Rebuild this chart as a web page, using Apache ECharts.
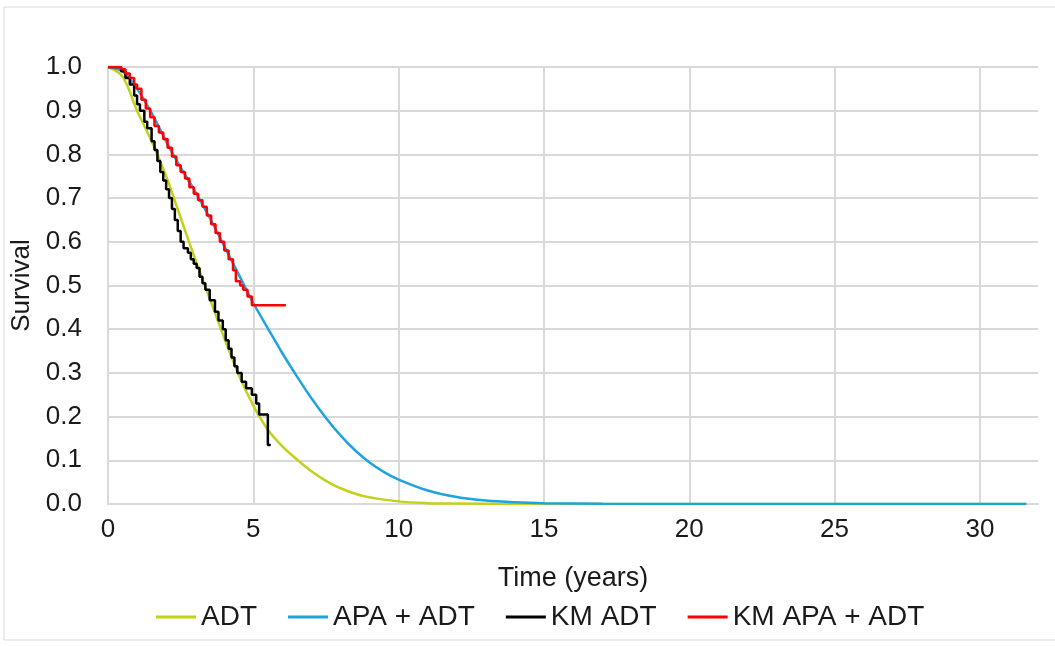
<!DOCTYPE html>
<html>
<head>
<meta charset="utf-8">
<script src="https://cdn.jsdelivr.net/npm/echarts@6/dist/echarts.min.js"></script>
<style>
html,body{margin:0;padding:0;background:#fff;}
#chart{width:1055px;height:646px;}
</style>
</head>
<body>
<div id="chart"></div>
<script>
// 曲线数据 [年, 生存率]
var adtCurve = [
	[0,1],[0.5,0.978],[1.0,0.9],[1.5,0.83],[2.0,0.75],[2.5,0.655],[3.0,0.56],
	[3.5,0.47],[4.0,0.38],[4.5,0.295],[5.0,0.225],[5.5,0.17],[6.0,0.132],
	[6.5,0.102],[7.0,0.075],[7.5,0.053],[8.0,0.036],[8.8,0.018],[10,0.006],
	[11,0.002],[12,0.001],[14,0],[31.6,0]
];
var apaCurve = [
	[0,1],[0.5,0.99],[1.0,0.95],[1.5,0.895],[2.0,0.83],[2.5,0.77],[3.0,0.715],
	[3.5,0.655],[4.0,0.59],[4.5,0.525],[5.0,0.46],[5.5,0.402],[6.0,0.345],
	[6.5,0.292],[7.0,0.242],[7.5,0.197],[8.0,0.157],[8.5,0.123],[9.0,0.095],
	[9.5,0.073],[10,0.056],[11,0.031],[12,0.016],[13,0.008],[14,0.004],
	[15,0.002],[17,0.0005],[20,0],[31.6,0]
];
// KM 阶梯
var kmAdt = [
	[0,1],[0.45,0.99],[0.6,0.975],[0.75,0.96],[0.9,0.935],[1.0,0.915],[1.1,0.9],
	[1.25,0.875],[1.35,0.86],[1.5,0.83],[1.6,0.81],[1.7,0.785],[1.8,0.76],
	[1.9,0.74],[2.0,0.72],[2.1,0.7],[2.2,0.675],[2.3,0.65],[2.4,0.625],
	[2.5,0.6],[2.6,0.585],[2.75,0.575],[2.85,0.56],[2.95,0.55],[3.05,0.54],
	[3.15,0.52],[3.25,0.505],[3.35,0.49],[3.5,0.466],[3.68,0.44],[3.8,0.42],
	[3.95,0.4],[4.05,0.375],[4.15,0.355],[4.25,0.335],[4.35,0.315],[4.45,0.3],
	[4.6,0.28],[4.75,0.265],[4.95,0.25],[5.1,0.23],[5.2,0.205],[5.5,0.135],
	[5.6,0.135]
];
var kmApa = [
	[0,1],[0.45,0.995],[0.6,0.985],[0.75,0.975],[0.9,0.96],[1.0,0.95],[1.15,0.925],
	[1.3,0.905],[1.45,0.885],[1.6,0.865],[1.75,0.85],[1.9,0.835],[2.05,0.815],
	[2.2,0.795],[2.35,0.775],[2.5,0.76],[2.65,0.745],[2.8,0.725],[2.95,0.71],
	[3.1,0.695],[3.25,0.68],[3.4,0.66],[3.55,0.64],[3.7,0.62],[3.85,0.6],
	[4.0,0.58],[4.15,0.56],[4.3,0.535],[4.4,0.51],[4.55,0.5],[4.65,0.49],
	[4.8,0.475],[4.95,0.455],[6.12,0.455]
];
var seriesNames = ['ADT','APA + ADT','KM ADT','KM APA + ADT'];
var seriesColors = ['#c3d11b','#1fa3df','#000000','#ff0000'];

var font = 'Liberation Sans, Arial, sans-serif';
var txt = '#1a1a1a';
var gridColor = '#d9d9d9';

var chart = echarts.init(document.getElementById('chart'));

function lineSeries(i, data, step){
	var s = {
		name: seriesNames[i],
		type: 'line',
		data: data,
		showSymbol: false,
		symbol: 'none',
		lineStyle: {color: seriesColors[i], width: 2.5},
		itemStyle: {color: seriesColors[i]},
		animation: false
	};
	if(step) s.step = 'end';
	else s.smooth = 0.35;
	return s;
}

var option = {
	backgroundColor: '#fff',
	animation: false,
	graphic: [{
		type: 'rect',
		shape: {x: 4, y: 7, width: 1070, height: 633},
		style: {fill: 'none', stroke: gridColor, lineWidth: 1},
		silent: true
	}],
	grid: {left: 108, right: 17, top: 67, bottom: 142},
	legend: {
		data: seriesNames,
		bottom: 10,
		left: 151,
		icon: 'rect',
		itemWidth: 40,
		itemHeight: 3,
		itemGap: 31,
		textStyle: {fontFamily: font, fontSize: 28, color: txt}
	},
	xAxis: {
		type: 'value',
		min: 0,
		max: 32,
		interval: 5,
		name: 'Time (years)',
		nameLocation: 'middle',
		nameGap: 61,
		nameTextStyle: {fontFamily: font, fontSize: 27, color: txt},
		axisLine: {show: true, lineStyle: {color: gridColor, width: 2}},
		axisTick: {show: false},
		axisLabel: {fontFamily: font, fontSize: 26, color: txt, margin: 13, showMaxLabel: false},
		splitLine: {show: true, showMaxLine: false, lineStyle: {color: gridColor, width: 2}}
	},
	yAxis: {
		type: 'value',
		min: 0,
		max: 1,
		interval: 0.1,
		name: 'Survival',
		nameLocation: 'middle',
		nameGap: 66,
		nameTextStyle: {fontFamily: font, fontSize: 26, color: txt},
		axisLine: {show: true, lineStyle: {color: gridColor, width: 2}},
		axisTick: {show: false},
		axisLabel: {
			fontFamily: font, fontSize: 26, color: txt, margin: 26,
			formatter: function(v){ return v.toFixed(1); }
		},
		splitLine: {show: true, lineStyle: {color: gridColor, width: 2}}
	},
	series: [
		lineSeries(0, adtCurve, false),
		lineSeries(1, apaCurve, false),
		lineSeries(2, kmAdt, true),
		lineSeries(3, kmApa, true)
	]
};
chart.setOption(option);
</script>
</body>
</html>
